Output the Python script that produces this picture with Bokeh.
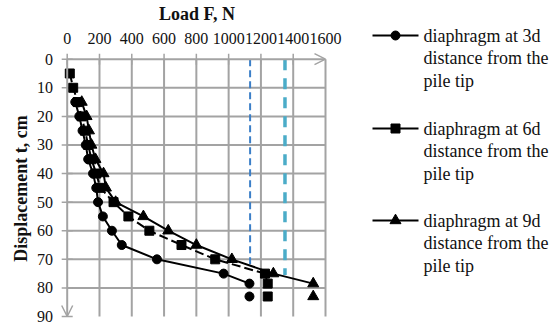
import math
from bokeh.plotting import figure
from bokeh.models import Range1d, Arrow, OpenHead
from bokeh.core.properties import value
from bokeh.embed import file_html
from bokeh.resources import INLINE

# ---- data ----
disp_3d = [15, 20, 25, 30, 35, 40, 45, 50, 55, 60, 65, 70, 75, 78.5]
load_3d = [50, 75, 95, 115, 130, 160, 180, 191, 221, 277, 338, 556, 969, 1129]
disp_6d = [5, 10, 15, 20, 25, 30, 35, 40, 45, 50, 55, 60, 65, 70, 75, 78.5]
load_6d = [16, 37, 65, 90, 110, 130, 150, 180, 205, 287, 379, 509, 708, 917, 1225, 1242]
disp_9d = [15, 20, 25, 30, 35, 40, 45, 50, 55, 60, 65, 70, 75, 78.5]
load_9d = [90, 120, 135, 150, 175, 225, 240, 300, 472, 626, 800, 1020, 1277, 1524]
final_disp = 83
final_loads = [1129, 1242, 1524]          # 3d, 6d, 9d (unconnected last points)
ref_loads = [1133, 1349]                  # blue dashed verticals
ref_disp_end = [72, 75.5]
series_labels = ["diaphragm at 3d\ndistance from the\npile tip",
                 "diaphragm at 6d\ndistance from the\npile tip",
                 "diaphragm at 9d\ndistance from the\npile tip"]
x_ticks = [0, 200, 400, 600, 800, 1000, 1200, 1400, 1600]
y_ticks = [0, 10, 20, 30, 40, 50, 60, 70, 80, 90]
x_title = "Load F, N"
y_title = "Displacement t, cm"

SERIF = "Liberation Serif"
GRID = "#a3a3a3"
INK = "#111111"

# ---- layout: the frame fills the whole canvas; pixel -> data helpers ----
W, H = 550, 328
X0PX, XPX_PER = 66.7, 258.3 / 1600.0
Y0PX, YPX_PER = 58.7, 257.3 / 90.0


def xd(px):
    return (px - X0PX) / XPX_PER


def yd(py):
    return (py - Y0PX) / YPX_PER


p = figure(width=W, height=H, output_backend="svg", toolbar_location=None,
           title=None, x_axis_type=None, y_axis_type=None,
           x_range=Range1d(xd(0), xd(W)), y_range=Range1d(yd(H), yd(0)),
           min_border=0)
p.outline_line_color = None
p.grid.visible = False

# grid lines
gx = x_ticks[1:]
p.segment(x0=gx, y0=[y_ticks[0]] * len(gx), x1=gx, y1=[y_ticks[-1]] * len(gx),
          line_color=GRID, line_width=2)
gy = y_ticks[1:-1]
p.segment(x0=[x_ticks[0]] * len(gy), y0=gy, x1=[x_ticks[-1]] * len(gy), y1=gy,
          line_color=GRID, line_width=2)

# axis tick marks (crossing)
p.scatter(x=[x_ticks[0]] * len(y_ticks), y=y_ticks[:-1] + [y_ticks[-1]], marker="dash",
          size=11, line_color=GRID, line_width=1.5)
p.scatter(x=x_ticks[:-1], y=[y_ticks[0]] * (len(x_ticks) - 1), marker="dash",
          angle=math.pi / 2, size=11, line_color=GRID, line_width=1.5)

# reference verticals
p.segment(x0=[ref_loads[0]], y0=[0], x1=[ref_loads[0]], y1=[ref_disp_end[0]],
          line_color="#3b7fc8", line_width=2, line_dash="7 4")
p.segment(x0=[ref_loads[1]], y0=[0], x1=[ref_loads[1]], y1=[ref_disp_end[1]],
          line_color="#4bacc8", line_width=3.5, line_dash="11 8")

# series
p.line(load_3d, disp_3d, line_color="black", line_width=2)
p.scatter(load_3d, disp_3d, marker="circle", size=9, color="black")
p.line(load_6d, disp_6d, line_color="black", line_width=2, line_dash="9 4")
p.scatter(load_6d, disp_6d, marker="square", size=9, color="black")
p.line(load_9d, disp_9d, line_color="black", line_width=2)
p.scatter(load_9d, disp_9d, marker="triangle", size=11, color="black")
p.scatter([final_loads[0]], [final_disp], marker="circle", size=9, color="black")
p.scatter([final_loads[1]], [final_disp], marker="square", size=9, color="black")
p.scatter([final_loads[2]], [final_disp], marker="triangle", size=11, color="black")

# axis lines with open arrow heads
p.add_layout(Arrow(end=OpenHead(size=11, line_color=GRID, line_width=1.5),
                   x_start=x_ticks[0], y_start=y_ticks[0], x_end=x_ticks[-1], y_end=y_ticks[0],
                   line_color=GRID, line_width=2))
p.add_layout(Arrow(end=OpenHead(size=11, line_color=GRID, line_width=1.5),
                   x_start=x_ticks[0], y_start=y_ticks[0], x_end=x_ticks[0], y_end=y_ticks[-1],
                   line_color=GRID, line_width=2))

# tick labels
p.text(x=x_ticks, y=[yd(37.5)] * len(x_ticks), text=[str(t) for t in x_ticks],
       text_font=value(SERIF), text_font_size="16px", text_color=INK,
       text_align="center", text_baseline="middle")
p.text(x=[xd(52.5)] * len(y_ticks), y=y_ticks, text=[str(t) for t in y_ticks],
       text_font=value(SERIF), text_font_size="16px", text_color=INK,
       text_align="right", text_baseline="middle")

# axis titles
p.text(x=[xd(196.5)], y=[yd(13.5)], text=[x_title],
       text_font=value(SERIF), text_font_size="18px", text_font_style="bold",
       text_color=INK, text_align="center", text_baseline="middle")
p.text(x=[xd(20)], y=[yd(188)], text=[y_title], angle=math.pi / 2,
       text_font=value(SERIF), text_font_size="18px", text_font_style="bold",
       text_color=INK, text_align="center", text_baseline="middle")

# legend
markers = ["circle", "square", "triangle"]
msizes = [9, 9, 11]
entry_py = [35, 128, 220]
for i, lab in enumerate(series_labels):
    py = entry_py[i]
    p.segment(x0=[xd(372)], y0=[yd(py)], x1=[xd(418)], y1=[yd(py)],
              line_color="black", line_width=2)
    p.scatter([xd(395)], [yd(py)], marker=markers[i], size=msizes[i], color="black")
    lines = lab.split("\n")
    p.text(x=[xd(423)] * len(lines), y=[yd(py + 22.5 * k) for k in range(len(lines))],
           text=lines, text_font=value(SERIF), text_font_size="18px", text_color=INK,
           text_baseline="middle", text_align="left")

open("out.html", "w").write(file_html(p, INLINE))
